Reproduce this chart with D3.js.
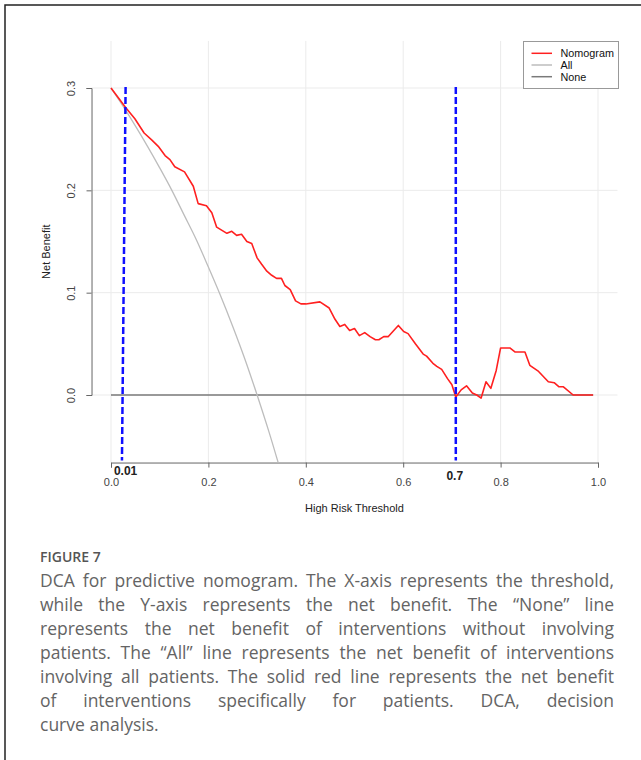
<!DOCTYPE html>
<html><head><meta charset="utf-8">
<script src="https://cdn.jsdelivr.net/npm/d3@7"></script>
<style>html,body{margin:0;padding:0;background:#fff;}svg{display:block;}</style>
</head><body>
<svg id="c" width="641" height="760"></svg>
<script>
// ---- data ----
const nomoThreshold = [0.000,0.030,0.049,0.068,0.084,0.097,0.111,0.121,0.131,0.151,0.169,0.179,0.196,0.207,0.217,0.238,0.248,0.258,0.268,0.279,0.289,0.300,0.309,0.320,0.330,0.340,0.350,0.357,0.368,0.379,0.390,0.400,0.429,0.448,0.460,0.470,0.480,0.490,0.500,0.510,0.521,0.532,0.543,0.550,0.560,0.569,0.590,0.601,0.610,0.625,0.641,0.648,0.661,0.669,0.679,0.691,0.700,0.708,0.719,0.730,0.742,0.751,0.760,0.770,0.780,0.791,0.800,0.819,0.830,0.850,0.860,0.878,0.898,0.910,0.920,0.929,0.949,0.990];
const nomoBenefit   = [0.300,0.281,0.270,0.256,0.249,0.243,0.234,0.230,0.223,0.218,0.204,0.187,0.185,0.178,0.164,0.158,0.160,0.156,0.157,0.150,0.148,0.134,0.128,0.121,0.117,0.114,0.114,0.107,0.103,0.092,0.089,0.089,0.091,0.085,0.074,0.067,0.069,0.063,0.065,0.058,0.061,0.057,0.054,0.054,0.057,0.057,0.068,0.062,0.060,0.050,0.040,0.038,0.031,0.028,0.025,0.016,0.010,-0.002,0.005,0.009,0.002,0.000,-0.003,0.013,0.0065,0.024,0.046,0.046,0.042,0.042,0.029,0.023,0.013,0.012,0.008,0.008,0.000,0.000];
const allThreshold  = [0.000,0.025,0.050,0.075,0.100,0.125,0.150,0.175,0.200,0.225,0.250,0.275,0.300,0.325,0.350];
const allBenefit    = [0.300,0.282,0.263,0.243,0.222,0.200,0.176,0.152,0.125,0.097,0.067,0.035,0.000,-0.037,-0.077];
const noneThreshold = [0.000,0.990];
const noneBenefit   = [0.000,0.000];
const xTicks = [0.0,0.2,0.4,0.6,0.8,1.0];
const xTickLabels = ["0.0","0.2","0.4","0.6","0.8","1.0"];
const yTicks = [0.0,0.1,0.2,0.3];
const yTickLabels = ["0.0","0.1","0.2","0.3"];
const cutoffTop = [0.030,0.708];
const cutoffBottom = [0.0225,0.708];
const cutoffLabels = ["0.01","0.7"];
const legendNames = ["Nomogram","All","None"];
const captionTitle = "FIGURE 7";
const captionLines = [
 "DCA for predictive nomogram. The X-axis represents the threshold,",
 "while the Y-axis represents the net benefit. The \u201cNone\u201d line",
 "represents the net benefit of interventions without involving",
 "patients. The \u201cAll\u201d line represents the net benefit of interventions",
 "involving all patients. The solid red line represents the net benefit",
 "of interventions specifically for patients. DCA, decision",
 "curve analysis."
];

// ---- drawing ----
const svg = d3.select("#c");
const F = "'Liberation Sans', Arial, Helvetica, sans-serif";
const x = d3.scaleLinear().domain([0,1]).range([111,598]);
const y = d3.scaleLinear().domain([0,0.3]).range([395,88]);
const xl = x(-0.04), xr = x(1.04), yt = y(0.346), yb = y(-0.066);

// frame
svg.append("rect").attr("x",5).attr("y",5).attr("width",800).attr("height",900)
  .attr("fill","none").attr("stroke","#222").attr("stroke-width",1.5);

svg.append("defs").append("clipPath").attr("id","pc").append("rect")
  .attr("x",xl).attr("y",yt).attr("width",xr-xl).attr("height",yb-yt);

// grid
const g = svg.append("g");
g.selectAll(".vg").data(xTicks).join("line")
  .attr("x1",d=>x(d)).attr("x2",d=>x(d)).attr("y1",yt).attr("y2",yb)
  .attr("stroke","#ebebeb").attr("stroke-width",1);
g.selectAll(".hg").data(yTicks).join("line")
  .attr("x1",xl).attr("x2",xr).attr("y1",d=>y(d)).attr("y2",d=>y(d))
  .attr("stroke","#ebebeb").attr("stroke-width",1);

// axes
const xAxis = d3.axisBottom(x).tickValues(xTicks).tickFormat((d,i)=>xTickLabels[i]).tickSize(5).tickPadding(11);
const ax = svg.append("g").attr("transform",`translate(0,${yb})`).call(xAxis);
ax.select(".domain").attr("stroke","#666");
ax.selectAll(".tick line").attr("stroke","#666");
ax.selectAll("text").attr("font-family",F).attr("font-size",11).attr("fill","#444");

const yAxis = d3.axisLeft(y).tickValues(yTicks).tickFormat((d,i)=>yTickLabels[i]).tickSize(5).tickPadding(0);
const ay = svg.append("g").attr("transform",`translate(${xl},0)`).call(yAxis);
ay.select(".domain").attr("stroke","#666");
ay.selectAll(".tick line").attr("stroke","#666");
ay.selectAll("text").attr("font-family",F).attr("font-size",11).attr("fill","#444")
  .attr("text-anchor","middle").attr("x",0).attr("dy",0)
  .attr("transform","translate(-17,0) rotate(-90)");

svg.append("text").attr("x",(xl+xr)/2).attr("y",512).attr("text-anchor","middle")
  .attr("font-family",F).attr("font-size",11).attr("fill","#222").text("High Risk Threshold");
svg.append("text").attr("transform",`translate(50,${(yt+yb)/2}) rotate(-90)`).attr("text-anchor","middle")
  .attr("font-family",F).attr("font-size",11).attr("fill","#222").text("Net Benefit");

// lines
const line = d3.line().x(d=>x(d[0])).y(d=>y(d[1]));
const lines = svg.append("g").attr("clip-path","url(#pc)");
lines.append("path").datum(noneThreshold.map((t,i)=>[t,noneBenefit[i]]))
  .attr("d",line).attr("fill","none").attr("stroke","#7a7a7a").attr("stroke-width",1.6);
lines.append("path").datum(allThreshold.map((t,i)=>[t,allBenefit[i]]))
  .attr("d",line.curve(d3.curveMonotoneX)).attr("fill","none").attr("stroke","#bdbdbd").attr("stroke-width",1.3);
line.curve(d3.curveLinear);
lines.append("path").datum(nomoThreshold.map((t,i)=>[t,nomoBenefit[i]]))
  .attr("d",line).attr("fill","none").attr("stroke","#ff2020").attr("stroke-width",1.6)
  .attr("stroke-linejoin","round");

// cutoff dashed lines
svg.selectAll(".cut").data(cutoffTop).join("line")
  .attr("x1",(d)=>x(d)).attr("y1",y(0.301))
  .attr("x2",(d,i)=>x(cutoffBottom[i])).attr("y2",y(-0.064))
  .attr("stroke","#1010ff").attr("stroke-width",2.5).attr("stroke-dasharray","7,3");
svg.append("text").attr("x",x(0.006)).attr("y",474.5).attr("text-anchor","start")
  .attr("font-family",F).attr("font-size",12).attr("font-weight","bold").attr("fill","#222")
  .text(cutoffLabels[0]);
svg.append("text").attr("x",x(cutoffBottom[1])-1).attr("y",480).attr("text-anchor","middle")
  .attr("font-family",F).attr("font-size",12).attr("font-weight","bold").attr("fill","#222").text(cutoffLabels[1]);

// legend
const lg = svg.append("g");
lg.append("rect").attr("x",523.5).attr("y",41.5).attr("width",95).attr("height",47)
  .attr("fill","#fff").attr("stroke","#999").attr("stroke-width",1);
const legColors = ["#ff2020","#bdbdbd","#7a7a7a"];
legendNames.forEach((n,i)=>{
  const yy = 53.3 + i*11.7;
  lg.append("line").attr("x1",531.5).attr("x2",552).attr("y1",yy).attr("y2",yy)
    .attr("stroke",legColors[i]).attr("stroke-width",1.5);
  lg.append("text").attr("x",560.5).attr("y",yy+3.8).attr("font-family",F).attr("font-size",10.8)
    .attr("fill","#111").text(n);
});

// caption
const CF = "'Open Sans', 'Noto Sans', sans-serif";
svg.append("text").attr("x",40).attr("y",562).attr("font-family",CF).attr("font-size",14)
  .attr("font-weight",600).attr("fill","#555").text(captionTitle);
const left = 40, right = 614;
const probe = svg.append("text").attr("font-family",CF).attr("font-size",100).text(captionLines[0]);
const fs = Math.min(17.5, 100*(right-left)/probe.node().getComputedTextLength());
probe.remove();
captionLines.forEach((ln,i)=>{
  const yy = 587 + i*24;
  const words = ln.split(" ");
  const last = i===captionLines.length-1;
  const tmp = [];
  let total = 0;
  words.forEach(w=>{
    const t = svg.append("text").attr("font-family",CF).attr("font-size",fs).attr("fill","#646464")
      .attr("y",yy).text(w);
    const wl = t.node().getComputedTextLength();
    tmp.push([t,wl]); total += wl;
  });
  const sp = last ? fs*0.27 : (right-left-total)/(words.length-1);
  let cx = left;
  tmp.forEach(([t,wl])=>{ t.attr("x",cx); cx += wl + sp; });
});
</script>
</body></html>
